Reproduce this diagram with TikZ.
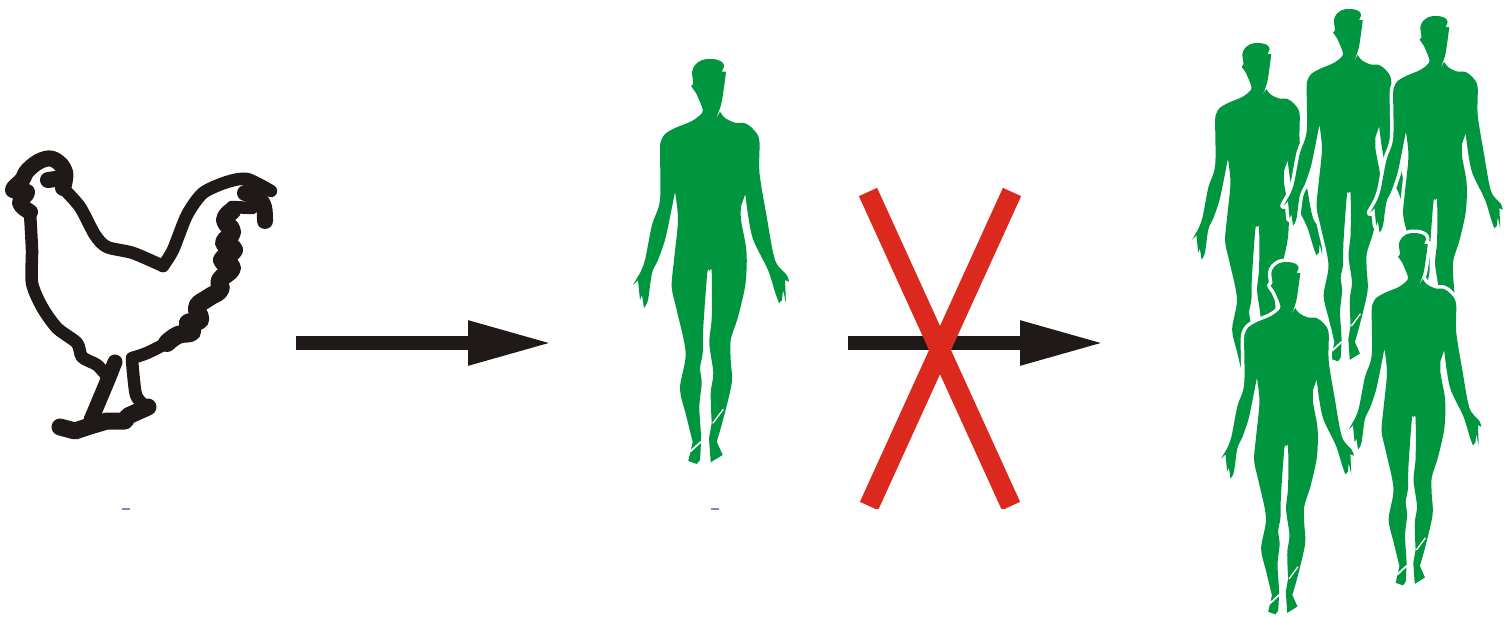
\documentclass[tikz,border=0pt]{standalone}
\usetikzlibrary{arrows.meta}

\definecolor{mangreen}{HTML}{009640}
\definecolor{crossred}{HTML}{DC291E}
\definecolor{inkblack}{HTML}{1F1A17}
\definecolor{dashblue}{HTML}{9080C0}

\tikzset{
  henline/.style={draw=inkblack, line width=12.5pt, line join=round, line cap=round},
  henbump/.style={henline, line width=16pt},
  blockarrow/.style={draw=inkblack, fill=inkblack, line width=14.5pt, -{Triangle[length=85pt,width=41pt]}},
  crossbar/.style={draw=crossred, line width=20pt},
  tick/.style={draw=dashblue, line width=1.2pt},
  man/.pic={
    \begin{scope}[shift={(-711,-59)}]
      \fill[mangreen, preaction={draw=white, line width=7pt, line join=round}]
        plot[smooth, tension=.5] coordinates {(691,86) (693.3,83.3) (692,72) (695,65) (701,60.5) (708,59) (716,59.5) (722,62) (724,66) (721.7,71.7)}
        -- plot[smooth, tension=.5] coordinates {(726,71.7) (724,87) (721,105) (715,120.7)}
        -- plot[smooth, tension=.5] coordinates {(720,111.7) (725,118) (735,122.7) (745,123.3) (753,129) (759.3,140)
            (759.5,173) (766.7,216.7) (775,260) (786.7,275) (789,281.7)}
        -- (785,280) -- (786,303) -- (783,290) -- (782,300)
        -- plot[smooth, tension=.5] coordinates {(779,303) (775,292) (768,270) (753.3,240) (748.3,216.7) (745.3,194)}
        -- plot[smooth, tension=.5] coordinates {(741,206) (741,220) (746,247) (746.7,265) (745,287) (738,317)
            (730.7,340) (730.7,360) (731.7,383) (723,420) (716.7,441.7)}
        -- (722.7,455) -- (710.7,462.3) -- (709,438.3)
        -- plot[smooth, tension=.5] coordinates {(711.7,423) (710.7,393) (713.3,373) (709.3,343) (711.7,318) (711.7,272)
            (709.3,271) (707.3,273) (703.3,327) (702.7,353) (700,368) (701.7,383) (699.3,407) (701,437) (700,460)}
        -- (696.7,464) -- (688.3,461)
        -- plot[smooth, tension=.5] coordinates {(692.7,442) (686,415) (680,388) (685.7,353) (676.7,310) (671.7,287)
            (674,260) (678,220) (675,192)}
        -- plot[smooth, tension=.5] coordinates {(670,217) (665,240) (658,260) (652,273) (648,300) (644,308)}
        -- (642,295) -- (640,300) -- (638,280) -- (633,285)
        -- plot[smooth, tension=.5] coordinates {(640,273) (645,260) (652,225) (660,200) (660,150) (661,141) (665,134)
            (675,128) (692,121) (702,113) (702,107) (696,93)} -- cycle;
      \draw[white, line width=1.8pt] (690,451.7) -- (701,441.7);
      \draw[white, line width=1.3pt] (712.7,423.3) -- (723.3,409.3);
    \end{scope}
  }
}

\begin{document}
\begin{tikzpicture}[x=1pt, y=-1pt]
  \useasboundingbox (0,0) rectangle (1504,617);

  % hen
  \draw[henline] plot[smooth, tension=.45] coordinates {(63,188) (80,207) (95,235) (107,247) (133,253) (163,266)};
  \draw[henline] plot[smooth, tension=.45] coordinates {(163,266) (173,250) (187,215) (203,193) (227,182) (247,179) (271,191)};
  \draw[henbump] plot[smooth, tension=.6] coordinates {(245,193) (258,198) (264,207) (265,221)};
  \draw[henbump, line width=18pt] plot[smooth, tension=.8] coordinates {(232,211) (225,220) (232,232) (224,243) (234,250) (222,260) (232,268)
    (220,280) (220,290) (208,298) (197,307) (200,320) (188,323) (192,332) (178,335) (167,343)};
  \draw[henline] plot[smooth, tension=.5] coordinates {(167,343) (147,353) (132,358)};
  \draw[henline] (252,208) -- (232,207);
  \draw[henline] plot[smooth, tension=.4] coordinates {(132,360) (136,395) (147,408)};
  \draw[henbump, line width=17pt] (60,427) -- (75,431) -- (90,426) -- (107,421) -- (125,421) -- (128,416) -- (148,407);
  \draw[henbump, line width=15pt] (91,420) -- (107,382) -- (115,362);
  \draw[henline] plot[smooth, tension=.45] coordinates {(107,376) (97,365) (82,357) (77,343) (57,328) (42,307) (32,283)
    (32,250) (30,213)};
  \draw[henbump] plot[smooth, tension=.7] coordinates {(30,212) (20,203) (27,192) (13,190) (22,180) (28,170) (42,160) (55,160) (65,172) (63,188)};
  \draw[henbump] (48,180) -- (63,178);

  % arrows and cross
  \coordinate (henexit) at (296,343);
  \coordinate (manentry) at (553,343);
  \coordinate (manexit) at (848,343);
  \coordinate (crowdentry) at (1105,343);
  \path[blockarrow] (henexit) -- (manentry);
  \path[blockarrow] (manexit) -- (crowdentry);

  \begin{scope}
    \clip (840,180) rectangle (1040,508);
    \coordinate (crossnw) at (868,192);
    \coordinate (crossne) at (1012,192);
    \coordinate (crosssw) at (869,506);
    \coordinate (crossse) at (1011,506);
    \draw[crossbar] (crossnw) -- (crossse);
    \draw[crossbar] (crossne) -- (crosssw);
  \end{scope}

  % men
  \pic at (711,59) {man};
  \pic[xscale=.85, yscale=.87] at (1258.5,43) {man};
  \pic[xscale=.85, yscale=.87] at (1350,9) {man};
  \pic[xscale=.85, yscale=.87] at (1436.5,16) {man};
  \pic[xscale=.85, yscale=.87] at (1287.5,262) {man};
  \pic[xscale=.85, yscale=.87] at (1415,233) {man};

  % small marks under the hen and the man
  \coordinate (henmarkl) at (122,509);
  \coordinate (henmarkr) at (130,509);
  \coordinate (manmarkl) at (711,509);
  \coordinate (manmarkr) at (719,509);
  \draw[tick] (henmarkl) -- (henmarkr);
  \draw[tick] (manmarkl) -- (manmarkr);
\end{tikzpicture}
\end{document}
